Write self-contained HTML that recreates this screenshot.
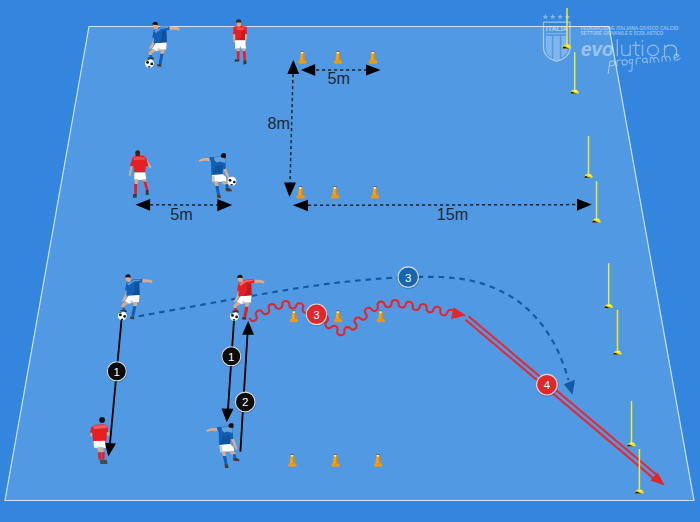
<!DOCTYPE html>
<html><head><meta charset="utf-8"><style>
html,body{margin:0;padding:0;background:#3385de;}
body{width:700px;height:522px;overflow:hidden;font-family:"Liberation Sans",sans-serif;}
svg{display:block;}
</style></head><body>
<svg width="700" height="522" viewBox="0 0 700 522" font-family="Liberation Sans, sans-serif">
<rect width="700" height="522" fill="#3385de"/>
<polygon points="89,26.5 609,26.5 694,500.5 5,500.5" fill="#5299e3" stroke="#cfe4f8" stroke-width="1.15"/>
<g fill="#ffffff" font-family="Liberation Sans, sans-serif">
<g opacity="0.4">
<path transform="translate(545.4,16.8)" d="M0,-2.9 L0.85,-0.9 L2.8,-0.9 L1.25,0.4 L1.75,2.4 L0,1.25 L-1.75,2.4 L-1.25,0.4 L-2.8,-0.9 L-0.85,-0.9 Z"/><path transform="translate(552.7,16.8)" d="M0,-2.9 L0.85,-0.9 L2.8,-0.9 L1.25,0.4 L1.75,2.4 L0,1.25 L-1.75,2.4 L-1.25,0.4 L-2.8,-0.9 L-0.85,-0.9 Z"/>
<path transform="translate(560.1,16.8)" d="M0,-2.9 L0.85,-0.9 L2.8,-0.9 L1.25,0.4 L1.75,2.4 L0,1.25 L-1.75,2.4 L-1.25,0.4 L-2.8,-0.9 L-0.85,-0.9 Z"/><path transform="translate(567.5,16.8)" d="M0,-2.9 L0.85,-0.9 L2.8,-0.9 L1.25,0.4 L1.75,2.4 L0,1.25 L-1.75,2.4 L-1.25,0.4 L-2.8,-0.9 L-0.85,-0.9 Z"/>
</g>
<path d="M543.5,22.2 L570,22.2 L570,48 Q570,57 556.7,61.5 Q543.5,57 543.5,48 Z" fill="none" stroke="#fff" stroke-width="1.2" opacity="0.5"/>
<path d="M545.8,36 L551.8,36 L551.8,57.5 Q548,55.5 546.5,52.5 Q545.8,50.5 545.8,48 Z" opacity="0.28"/>
<path d="M553.3,36 L559.8,36 L559.8,60 Q556.5,61 553.3,60 Z" opacity="0.28"/>
<path d="M561.3,36 L567.6,36 L567.6,48 Q567.6,50.5 567,52.5 Q565.5,55.5 561.3,57.5 Z" opacity="0.28"/>
<text x="556.7" y="31" text-anchor="middle" font-size="7.6" font-weight="bold" opacity="0.5" textLength="22" lengthAdjust="spacingAndGlyphs">ITALIA</text>
<rect x="546" y="33" width="21" height="1.2" opacity="0.25"/>
<text x="580.7" y="29.6" font-size="5.4" font-weight="bold" opacity="0.45" textLength="97.5" lengthAdjust="spacingAndGlyphs">FEDERAZIONE ITALIANA GIUOCO CALCIO</text>
<text x="580.7" y="35.4" font-size="5.4" font-weight="bold" opacity="0.45" textLength="82.6" lengthAdjust="spacingAndGlyphs">SETTORE GIOVANILE E SCOLASTICO</text>
<text x="581" y="55.8" font-size="19.5" font-style="italic" font-weight="bold" opacity="0.42" textLength="32.5" lengthAdjust="spacingAndGlyphs">evo</text>
<g fill="none" stroke="#fff" stroke-width="1.35" opacity="0.42" stroke-linecap="round">
<path d="M617.3,39.7 V55.6"/>
<path d="M621.8,45.2 V52 Q621.8,55.6 625.6,55.6 Q630.2,55.6 630.2,51.5 M630.2,45.2 V55.6"/>
<path d="M635.7,42 V53 Q635.7,55.6 638.8,55.5 M632.6,45.3 H639.8"/>
<path d="M642.5,45.2 V55.6"/>
<ellipse cx="653" cy="50.4" rx="5.5" ry="5.2"/>
<path d="M664.5,45.2 V55.6 M664.5,50.5 Q664.5,45.2 670.5,45.2 Q676.5,45.2 676.5,50.5 V55.6"/>
</g>
<circle cx="642.5" cy="41" r="0.9" opacity="0.42"/>
<g fill="none" stroke="#fff" stroke-width="1.05" opacity="0.45" stroke-linecap="round" stroke-linejoin="round" transform="translate(607.2,66.8) rotate(-5.4) scale(1.08,1)">
<path d="M0.3,6.8 L3,-5 M3,-4.5 Q6.5,-6.5 7.5,-3.5 Q7,0 3,-0.8"/>
<path d="M9,0 L9.5,-5 Q11,-6 13.5,-5.5"/>
<ellipse cx="16.5" cy="-2.8" rx="2.4" ry="2.6"/>
<path d="M24,-4.5 Q21,-6 20.5,-3 Q21,-0.5 23.5,-1.5 M24,-5 L22.5,5.5 Q21.5,7.5 19.5,6"/>
<path d="M27,0 L27.5,-5 Q29,-6 31.5,-5.5"/>
<path d="M37,-4.5 Q33,-6 33,-2.5 Q33.5,0 36.5,-1.5 M37,-5 L37.5,0"/>
<path d="M40,0 L40.5,-5 Q42.5,-6 43.5,-3 L44,0 M43.8,-4 Q46,-6 47.5,-3 L48,0"/>
<path d="M51,0 L51.5,-5 Q53.5,-6 54.5,-3 L55,0 M54.8,-4 Q57,-6 58.5,-3 L59,0"/>
<path d="M62,-2.5 Q66,-2.5 67,-4.5 Q66,-6.5 63.5,-5.5 Q61.5,-3 63,-0.5 Q65.5,0.5 68,-1.5"/>
</g>
</g>
<g stroke="#1b2530" stroke-width="1.5" stroke-dasharray="3.2,2.8">
<line x1="316" y1="70" x2="366" y2="70"/>
<line x1="293" y1="74" x2="290" y2="183"/>
<line x1="308" y1="205.3" x2="577" y2="204.6"/>
<line x1="150" y1="204.8" x2="218" y2="205"/>
</g>
<g fill="#000">
<path d="M301,70 L315.2,64.1 L315.2,75.9 Z"/>
<path d="M380.6,70 L366,64.4 L366,75.6 Z"/>
<path d="M293.3,60 L287.3,74 L299.3,74 Z"/>
<path d="M289.5,197 L284,182.6 L296,182.6 Z"/>
<path d="M292.8,205.3 L308,199.7 L308,211.2 Z"/>
<path d="M591.7,204.6 L577,198.7 L577,210.8 Z"/>
<path d="M135.5,204.8 L150.1,198.9 L150.1,210.7 Z"/>
<path d="M232.2,205 L217.3,199 L217.3,211.2 Z"/>
</g>
<g fill="#1c2836" font-family="Liberation Sans, sans-serif" font-size="16.2">
<text x="327.6" y="83.8">5m</text>
<text x="267.4" y="129.2">8m</text>
<text x="436.8" y="219.8">15m</text>
<text x="170.2" y="219.5">5m</text>
</g>
<g transform="translate(302.4,51)">
<path d="M-1.5,0.6 L1.5,0.6 L2.6,9.7 L-2.6,9.7 Z" fill="#f5a214"/>
<path d="M0.4,0.6 L1.5,0.6 L2.6,9.7 L0.9,9.7 Z" fill="#d98508"/>
<path d="M-4.3,11.8 Q-4.5,9.4 -2.6,9.4 L2.6,9.4 Q4.5,9.4 4.3,11.8 Q3.5,12.7 2,12.7 L-2,12.7 Q-3.5,12.7 -4.3,11.8 Z" fill="#eb9a10"/>
<ellipse cx="-0.1" cy="1.5" rx="1.1" ry="1.2" fill="#fff2c8"/>
<rect x="-1.5" y="0" width="3" height="0.7" fill="#4a4038"/>
</g>
<g transform="translate(338,51)">
<path d="M-1.5,0.6 L1.5,0.6 L2.6,9.7 L-2.6,9.7 Z" fill="#f5a214"/>
<path d="M0.4,0.6 L1.5,0.6 L2.6,9.7 L0.9,9.7 Z" fill="#d98508"/>
<path d="M-4.3,11.8 Q-4.5,9.4 -2.6,9.4 L2.6,9.4 Q4.5,9.4 4.3,11.8 Q3.5,12.7 2,12.7 L-2,12.7 Q-3.5,12.7 -4.3,11.8 Z" fill="#eb9a10"/>
<ellipse cx="-0.1" cy="1.5" rx="1.1" ry="1.2" fill="#fff2c8"/>
<rect x="-1.5" y="0" width="3" height="0.7" fill="#4a4038"/>
</g>
<g transform="translate(373,51)">
<path d="M-1.5,0.6 L1.5,0.6 L2.6,9.7 L-2.6,9.7 Z" fill="#f5a214"/>
<path d="M0.4,0.6 L1.5,0.6 L2.6,9.7 L0.9,9.7 Z" fill="#d98508"/>
<path d="M-4.3,11.8 Q-4.5,9.4 -2.6,9.4 L2.6,9.4 Q4.5,9.4 4.3,11.8 Q3.5,12.7 2,12.7 L-2,12.7 Q-3.5,12.7 -4.3,11.8 Z" fill="#eb9a10"/>
<ellipse cx="-0.1" cy="1.5" rx="1.1" ry="1.2" fill="#fff2c8"/>
<rect x="-1.5" y="0" width="3" height="0.7" fill="#4a4038"/>
</g>
<g transform="translate(300.6,186.3)">
<path d="M-1.5,0.6 L1.5,0.6 L2.6,9.2 L-2.6,9.2 Z" fill="#f5a214"/>
<path d="M0.4,0.6 L1.5,0.6 L2.6,9.2 L0.9,9.2 Z" fill="#d98508"/>
<path d="M-4.3,11.3 Q-4.5,8.9 -2.6,8.9 L2.6,8.9 Q4.5,8.9 4.3,11.3 Q3.5,12.2 2,12.2 L-2,12.2 Q-3.5,12.2 -4.3,11.3 Z" fill="#eb9a10"/>
<ellipse cx="-0.1" cy="1.5" rx="1.1" ry="1.2" fill="#fff2c8"/>
<rect x="-1.5" y="0" width="3" height="0.7" fill="#4a4038"/>
</g>
<g transform="translate(335,186.3)">
<path d="M-1.5,0.6 L1.5,0.6 L2.6,9.2 L-2.6,9.2 Z" fill="#f5a214"/>
<path d="M0.4,0.6 L1.5,0.6 L2.6,9.2 L0.9,9.2 Z" fill="#d98508"/>
<path d="M-4.3,11.3 Q-4.5,8.9 -2.6,8.9 L2.6,8.9 Q4.5,8.9 4.3,11.3 Q3.5,12.2 2,12.2 L-2,12.2 Q-3.5,12.2 -4.3,11.3 Z" fill="#eb9a10"/>
<ellipse cx="-0.1" cy="1.5" rx="1.1" ry="1.2" fill="#fff2c8"/>
<rect x="-1.5" y="0" width="3" height="0.7" fill="#4a4038"/>
</g>
<g transform="translate(375,186.3)">
<path d="M-1.5,0.6 L1.5,0.6 L2.6,9.2 L-2.6,9.2 Z" fill="#f5a214"/>
<path d="M0.4,0.6 L1.5,0.6 L2.6,9.2 L0.9,9.2 Z" fill="#d98508"/>
<path d="M-4.3,11.3 Q-4.5,8.9 -2.6,8.9 L2.6,8.9 Q4.5,8.9 4.3,11.3 Q3.5,12.2 2,12.2 L-2,12.2 Q-3.5,12.2 -4.3,11.3 Z" fill="#eb9a10"/>
<ellipse cx="-0.1" cy="1.5" rx="1.1" ry="1.2" fill="#fff2c8"/>
<rect x="-1.5" y="0" width="3" height="0.7" fill="#4a4038"/>
</g>
<g transform="translate(294,310.5)">
<path d="M-1.5,0.6 L1.5,0.6 L2.6,8.7 L-2.6,8.7 Z" fill="#f5a214"/>
<path d="M0.4,0.6 L1.5,0.6 L2.6,8.7 L0.9,8.7 Z" fill="#d98508"/>
<path d="M-4.3,10.8 Q-4.5,8.4 -2.6,8.4 L2.6,8.4 Q4.5,8.4 4.3,10.8 Q3.5,11.7 2,11.7 L-2,11.7 Q-3.5,11.7 -4.3,10.8 Z" fill="#eb9a10"/>
<ellipse cx="-0.1" cy="1.5" rx="1.1" ry="1.2" fill="#fff2c8"/>
<rect x="-1.5" y="0" width="3" height="0.7" fill="#4a4038"/>
</g>
<g transform="translate(338,310.5)">
<path d="M-1.5,0.6 L1.5,0.6 L2.6,8.7 L-2.6,8.7 Z" fill="#f5a214"/>
<path d="M0.4,0.6 L1.5,0.6 L2.6,8.7 L0.9,8.7 Z" fill="#d98508"/>
<path d="M-4.3,10.8 Q-4.5,8.4 -2.6,8.4 L2.6,8.4 Q4.5,8.4 4.3,10.8 Q3.5,11.7 2,11.7 L-2,11.7 Q-3.5,11.7 -4.3,10.8 Z" fill="#eb9a10"/>
<ellipse cx="-0.1" cy="1.5" rx="1.1" ry="1.2" fill="#fff2c8"/>
<rect x="-1.5" y="0" width="3" height="0.7" fill="#4a4038"/>
</g>
<g transform="translate(380.8,310.5)">
<path d="M-1.5,0.6 L1.5,0.6 L2.6,8.7 L-2.6,8.7 Z" fill="#f5a214"/>
<path d="M0.4,0.6 L1.5,0.6 L2.6,8.7 L0.9,8.7 Z" fill="#d98508"/>
<path d="M-4.3,10.8 Q-4.5,8.4 -2.6,8.4 L2.6,8.4 Q4.5,8.4 4.3,10.8 Q3.5,11.7 2,11.7 L-2,11.7 Q-3.5,11.7 -4.3,10.8 Z" fill="#eb9a10"/>
<ellipse cx="-0.1" cy="1.5" rx="1.1" ry="1.2" fill="#fff2c8"/>
<rect x="-1.5" y="0" width="3" height="0.7" fill="#4a4038"/>
</g>
<g transform="translate(292.3,454)">
<path d="M-1.5,0.6 L1.5,0.6 L2.6,9.7 L-2.6,9.7 Z" fill="#f5a214"/>
<path d="M0.4,0.6 L1.5,0.6 L2.6,9.7 L0.9,9.7 Z" fill="#d98508"/>
<path d="M-4.3,11.8 Q-4.5,9.4 -2.6,9.4 L2.6,9.4 Q4.5,9.4 4.3,11.8 Q3.5,12.7 2,12.7 L-2,12.7 Q-3.5,12.7 -4.3,11.8 Z" fill="#eb9a10"/>
<ellipse cx="-0.1" cy="1.5" rx="1.1" ry="1.2" fill="#fff2c8"/>
<rect x="-1.5" y="0" width="3" height="0.7" fill="#4a4038"/>
</g>
<g transform="translate(335.4,454)">
<path d="M-1.5,0.6 L1.5,0.6 L2.6,9.7 L-2.6,9.7 Z" fill="#f5a214"/>
<path d="M0.4,0.6 L1.5,0.6 L2.6,9.7 L0.9,9.7 Z" fill="#d98508"/>
<path d="M-4.3,11.8 Q-4.5,9.4 -2.6,9.4 L2.6,9.4 Q4.5,9.4 4.3,11.8 Q3.5,12.7 2,12.7 L-2,12.7 Q-3.5,12.7 -4.3,11.8 Z" fill="#eb9a10"/>
<ellipse cx="-0.1" cy="1.5" rx="1.1" ry="1.2" fill="#fff2c8"/>
<rect x="-1.5" y="0" width="3" height="0.7" fill="#4a4038"/>
</g>
<g transform="translate(378,454)">
<path d="M-1.5,0.6 L1.5,0.6 L2.6,9.7 L-2.6,9.7 Z" fill="#f5a214"/>
<path d="M0.4,0.6 L1.5,0.6 L2.6,9.7 L0.9,9.7 Z" fill="#d98508"/>
<path d="M-4.3,11.8 Q-4.5,9.4 -2.6,9.4 L2.6,9.4 Q4.5,9.4 4.3,11.8 Q3.5,12.7 2,12.7 L-2,12.7 Q-3.5,12.7 -4.3,11.8 Z" fill="#eb9a10"/>
<ellipse cx="-0.1" cy="1.5" rx="1.1" ry="1.2" fill="#fff2c8"/>
<rect x="-1.5" y="0" width="3" height="0.7" fill="#4a4038"/>
</g>
<path d="M138.6,316.3 L140.1,316.0 L141.9,315.7 L143.9,315.3 L146.1,314.9 L148.5,314.5 L151.1,314.0 L153.8,313.5 L156.7,313.0 L159.7,312.4 L162.7,311.9 L165.9,311.3 L169.1,310.7 L172.4,310.1 L175.7,309.5 L179.0,308.9 L182.3,308.3 L185.5,307.7 L188.8,307.1 L191.9,306.6 L195.0,306.0 L198.1,305.4 L201.2,304.9 L204.4,304.3 L207.7,303.7 L211.0,303.1 L214.3,302.5 L217.7,301.9 L221.1,301.3 L224.5,300.7 L227.9,300.1 L231.3,299.5 L234.7,298.9 L238.0,298.3 L241.3,297.7 L244.6,297.2 L247.8,296.6 L251.0,296.1 L254.1,295.5 L257.1,295.0 L260.0,294.5 L262.8,294.0 L265.6,293.5 L268.3,293.1 L271.0,292.6 L273.6,292.2 L276.1,291.7 L278.6,291.3 L281.1,290.9 L283.5,290.5 L285.9,290.1 L288.3,289.7 L290.7,289.3 L293.1,288.9 L295.5,288.5 L297.9,288.1 L300.2,287.7 L302.6,287.4 L305.1,287.0 L307.5,286.7 L310.0,286.3 L312.5,285.9 L315.0,285.6 L317.5,285.3 L320.0,284.9 L322.5,284.6 L325.1,284.2 L327.6,283.9 L330.1,283.6 L332.6,283.3 L335.1,283.0 L337.6,282.7 L340.1,282.4 L342.6,282.1 L345.1,281.8 L347.6,281.5 L350.1,281.3 L352.6,281.0 L355.1,280.8 L357.5,280.5 L360.0,280.3 L362.5,280.1 L364.9,279.9 L367.4,279.6 L369.8,279.4 L372.3,279.2 L374.7,279.0 L377.2,278.9 L379.6,278.7 L382.1,278.5 L384.5,278.4 L386.9,278.2 L389.3,278.0 L391.7,277.9 L394.1,277.8 L396.5,277.7 L398.8,277.5 L401.1,277.4 L403.5,277.4 L405.7,277.3 L408.0,277.2 L410.2,277.1 L412.5,277.1 L414.7,277.0 L416.9,277.0 L419.1,276.9 L421.3,276.9 L423.4,276.8 L425.6,276.8 L427.7,276.8 L429.8,276.8 L431.9,276.8 L434.0,276.8 L436.1,276.8 L438.1,276.9 L440.1,277.0 L442.1,277.0 L444.1,277.2 L446.1,277.3 L448.1,277.4 L450.0,277.6 L451.9,277.8 L453.8,278.0 L455.7,278.2 L457.5,278.4 L459.3,278.7 L461.1,278.9 L462.9,279.2 L464.6,279.5 L466.4,279.8 L468.1,280.1 L469.8,280.4 L471.6,280.8 L473.3,281.2 L474.9,281.6 L476.6,282.0 L478.3,282.4 L480.0,282.9 L481.7,283.4 L483.3,283.9 L485.0,284.5 L486.7,285.1 L488.4,285.7 L490.1,286.4 L491.7,287.0 L493.4,287.7 L495.1,288.5 L496.8,289.2 L498.5,290.0 L500.1,290.8 L501.8,291.6 L503.4,292.4 L505.0,293.3 L506.6,294.1 L508.2,295.0 L509.7,295.9 L511.2,296.8 L512.7,297.7 L514.2,298.6 L515.6,299.6 L517.0,300.5 L518.4,301.4 L519.7,302.4 L521.0,303.4 L522.3,304.4 L523.5,305.5 L524.7,306.5 L525.9,307.6 L527.1,308.7 L528.3,309.7 L529.4,310.8 L530.5,312.0 L531.6,313.1 L532.7,314.2 L533.8,315.3 L534.8,316.4 L535.8,317.5 L536.8,318.7 L537.8,319.8 L538.8,320.9 L539.7,322.0 L540.6,323.1 L541.5,324.2 L542.4,325.3 L543.3,326.5 L544.1,327.6 L544.9,328.8 L545.7,329.9 L546.5,331.0 L547.3,332.2 L548.0,333.3 L548.7,334.5 L549.5,335.6 L550.1,336.8 L550.8,337.9 L551.5,339.0 L552.1,340.1 L552.8,341.3 L553.4,342.3 L554.0,343.4 L554.6,344.5 L555.2,345.6 L555.7,346.6 L556.3,347.7 L556.8,348.7 L557.3,349.8 L557.8,350.8 L558.3,351.9 L558.7,352.9 L559.2,353.9 L559.6,354.9 L560.0,355.9 L560.4,356.9 L560.8,357.9 L561.2,358.9 L561.6,359.9 L562.0,360.8 L562.3,361.8 L562.7,362.7 L563.1,363.6 L563.4,364.5 L563.7,365.4 L564.1,366.3 L564.4,367.2 L564.7,368.1 L565.1,369.1 L565.4,370.0 L565.7,370.9 L566.0,371.8 L566.2,372.6 L566.5,373.5 L566.8,374.3 L567.0,375.1 L567.2,375.9 L567.5,376.6 L567.7,377.3 L567.9,378.0 L568.0,378.6 L568.2,379.1 L568.4,379.6 L568.5,380.0" fill="none" stroke="#135ca4" stroke-width="2.2" stroke-dasharray="5.6,4.85"/>
<path d="M572.5,394.8 L563.8,384.2 L575,379.8 Z" fill="#135ca4"/>
<g stroke="#000" stroke-width="1.8">
<line x1="121.5" y1="320" x2="110" y2="443"/>
<line x1="234" y1="320.3" x2="228" y2="409"/>
<line x1="240.4" y1="451.6" x2="247.5" y2="334"/>
</g>
<g fill="#000">
<path d="M108.3,456.6 L104.8,442.8 L116,443.5 Z"/>
<path d="M226.7,422.2 L221.6,408.4 L233.6,408.8 Z"/>
<path d="M248.2,321 L242.2,334.8 L254,334.8 Z"/>
</g>
<path d="M249.24,318.18 L251.19,320.53 L252.02,320.93 L252.69,321.05 L253.28,321.06 L253.83,320.99 L254.33,320.85 L254.79,320.65 L255.22,320.40 L255.62,320.09 L255.98,319.73 L256.30,319.30 L256.58,318.79 L256.79,318.17 L256.87,317.34 L255.79,314.53 L255.77,313.51 L255.96,312.83 L256.22,312.29 L256.55,311.84 L256.91,311.45 L257.31,311.12 L257.74,310.85 L258.21,310.64 L258.71,310.49 L259.25,310.41 L259.83,310.40 L260.47,310.50 L261.21,310.79 L262.97,313.01 L263.92,313.76 L264.60,314.00 L265.18,314.10 L265.72,314.10 L266.22,314.04 L266.70,313.92 L267.15,313.73 L267.59,313.48 L267.99,313.17 L268.37,312.80 L268.70,312.35 L268.99,311.80 L269.20,311.09 L269.02,309.53 L268.44,307.12 L268.67,306.39 L268.98,305.83 L269.34,305.38 L269.74,305.01 L270.17,304.70 L270.64,304.46 L271.13,304.27 L271.65,304.16 L272.20,304.11 L272.78,304.14 L273.40,304.28 L274.07,304.58 L274.90,305.37 L276.30,307.91 L276.95,308.36 L277.51,308.61 L278.03,308.74 L278.52,308.81 L278.98,308.81 L279.42,308.75 L279.85,308.64 L280.26,308.47 L280.66,308.24 L281.06,307.94 L281.46,307.54 L281.85,307.01 L282.21,306.11 L282.38,303.08 L282.84,302.33 L283.34,301.86 L283.86,301.53 L284.39,301.29 L284.93,301.14 L285.47,301.06 L286.01,301.05 L286.56,301.12 L287.09,301.26 L287.63,301.49 L288.15,301.81 L288.66,302.28 L289.14,303.04 L289.44,306.07 L289.85,306.91 L290.29,307.41 L290.72,307.77 L291.17,308.04 L291.61,308.24 L292.07,308.37 L292.53,308.44 L293.00,308.46 L293.48,308.41 L293.98,308.29 L294.48,308.09 L295.00,307.76 L295.58,307.22 L296.75,304.49 L297.51,303.72 L298.18,303.39 L298.80,303.23 L299.40,303.18 L299.97,303.21 L300.51,303.31 L301.03,303.49 L301.51,303.72 L301.97,304.03 L302.38,304.40 L302.76,304.85 L303.08,305.41 L303.31,306.16 L302.69,308.82 L302.66,310.13 L302.90,310.83 L303.22,311.36 L303.58,311.80 L303.99,312.16 L304.43,312.45 L304.91,312.68 L305.42,312.85 L305.96,312.96 L306.53,312.99 L307.14,312.94 L307.79,312.77 L308.48,312.42 L309.34,311.34 L310.47,308.91 L311.05,308.44 L311.59,308.17 L312.11,308.00 L312.62,307.92 L313.13,307.91 L313.65,307.96 L314.16,308.09 L314.67,308.30 L315.18,308.58 L315.67,308.95 L316.12,309.43 L316.51,310.08 L316.72,311.17 L316.15,314.06 L316.29,314.83 L316.49,315.37 L316.72,315.80 L316.96,316.16 L317.23,316.46 L317.52,316.72 L317.83,316.92 L318.17,317.08 L318.55,317.20 L318.99,317.29 L319.51,317.35 L320.15,317.32 L321.05,317.09 L323.60,315.42 L324.49,315.33 L325.17,315.44 L325.75,315.65 L326.25,315.93 L326.69,316.25 L327.06,316.61 L327.39,317.02 L327.66,317.47 L327.87,317.95 L328.01,318.48 L328.08,319.06 L328.04,319.72 L327.79,320.55 L325.72,322.78 L325.38,323.69 L325.32,324.38 L325.38,324.98 L325.53,325.53 L325.74,326.03 L326.01,326.49 L326.35,326.91 L326.74,327.28 L327.18,327.61 L327.69,327.89 L328.27,328.10 L328.95,328.22 L329.78,328.15 L332.14,326.41 L333.14,325.97 L333.78,325.85 L334.29,325.81 L334.74,325.82 L335.17,325.91 L335.59,326.07 L335.97,326.27 L336.33,326.52 L336.66,326.82 L336.95,327.18 L337.22,327.61 L337.46,328.14 L337.64,328.84 L337.14,331.37 L337.17,332.85 L337.53,333.55 L337.99,334.07 L338.50,334.48 L339.06,334.78 L339.65,335.00 L340.26,335.13 L340.90,335.18 L341.55,335.13 L342.19,334.99 L342.81,334.73 L343.41,334.35 L343.96,333.76 L344.36,332.56 L344.35,329.76 L344.61,329.08 L344.88,328.60 L345.12,328.24 L345.35,327.95 L345.59,327.72 L345.86,327.52 L346.18,327.36 L346.54,327.23 L346.95,327.14 L347.42,327.09 L347.97,327.09 L348.62,327.19 L349.56,327.59 L351.88,329.49 L352.72,329.63 L353.39,329.58 L353.98,329.43 L354.50,329.20 L354.97,328.93 L355.38,328.60 L355.74,328.22 L356.05,327.81 L356.30,327.34 L356.50,326.83 L356.62,326.25 L356.64,325.57 L356.43,324.68 L354.63,322.22 L354.44,321.33 L354.49,320.65 L354.63,320.06 L354.86,319.54 L355.14,319.07 L355.48,318.65 L355.87,318.28 L356.32,317.96 L356.80,317.70 L357.31,317.53 L357.86,317.43 L358.50,317.43 L359.32,317.61 L361.71,319.45 L362.68,319.74 L363.38,319.74 L363.98,319.62 L364.51,319.44 L364.97,319.20 L365.39,318.90 L365.77,318.57 L366.09,318.18 L366.37,317.75 L366.59,317.27 L366.75,316.73 L366.83,316.10 L366.76,315.32 L365.19,312.92 L364.83,311.79 L364.86,311.06 L365.01,310.45 L365.24,309.92 L365.53,309.44 L365.87,309.02 L366.26,308.65 L366.71,308.34 L367.20,308.08 L367.74,307.88 L368.34,307.76 L369.00,307.74 L369.77,307.89 L371.14,309.00 L372.74,310.62 L373.42,310.87 L374.00,310.96 L374.52,310.97 L375.00,310.92 L375.44,310.81 L375.86,310.64 L376.25,310.43 L376.62,310.16 L376.97,309.83 L377.29,309.42 L377.59,308.93 L377.83,308.28 L377.91,307.12 L377.44,304.28 L377.73,303.52 L378.12,302.97 L378.54,302.55 L379.00,302.21 L379.49,301.95 L379.99,301.76 L380.52,301.63 L381.06,301.58 L381.61,301.60 L382.18,301.70 L382.76,301.91 L383.37,302.27 L384.05,303.01 L385.11,305.84 L385.72,306.43 L386.27,306.76 L386.78,306.97 L387.26,307.10 L387.73,307.17 L388.18,307.17 L388.63,307.12 L389.07,307.00 L389.51,306.83 L389.95,306.58 L390.39,306.24 L390.84,305.78 L391.29,305.01 L391.72,301.99 L392.23,301.20 L392.75,300.74 L393.28,300.43 L393.81,300.22 L394.35,300.09 L394.87,300.03 L395.40,300.05 L395.92,300.13 L396.43,300.28 L396.94,300.51 L397.43,300.83 L397.91,301.29 L398.37,301.98 L398.65,304.96 L399.07,305.92 L399.52,306.45 L399.97,306.82 L400.41,307.10 L400.85,307.30 L401.30,307.44 L401.77,307.52 L402.24,307.54 L402.72,307.50 L403.22,307.38 L403.74,307.19 L404.28,306.89 L404.86,306.38 L405.83,303.77 L406.54,302.72 L407.14,302.29 L407.71,302.03 L408.25,301.88 L408.78,301.81 L409.29,301.82 L409.79,301.89 L410.28,302.02 L410.75,302.21 L411.20,302.48 L411.64,302.83 L412.05,303.28 L412.43,303.91 L412.67,305.32 L412.69,307.94 L413.09,308.60 L413.53,309.07 L413.99,309.42 L414.47,309.68 L414.96,309.87 L415.46,310.00 L415.97,310.05 L416.48,310.04 L417.01,309.96 L417.55,309.79 L418.10,309.53 L418.67,309.10 L419.30,308.19 L420.20,305.40 L420.79,304.83 L421.34,304.50 L421.88,304.29 L422.40,304.17 L422.92,304.12 L423.43,304.14 L423.93,304.23 L424.42,304.38 L424.90,304.60 L425.37,304.90 L425.82,305.30 L426.25,305.85 L426.61,306.74 L426.60,309.78 L426.97,310.57 L427.37,311.09 L427.80,311.47 L428.25,311.77 L428.70,311.99 L429.17,312.14 L429.65,312.24 L430.14,312.27 L430.65,312.23 L431.17,312.13 L431.72,311.93 L432.29,311.60 L432.93,311.00 L434.04,308.17 L434.70,307.47 L435.29,307.12 L435.85,306.91 L436.39,306.80 L436.91,306.76 L437.42,306.79 L437.91,306.89 L438.39,307.05 L438.85,307.28 L439.30,307.58 L439.73,307.96 L440.13,308.47 L440.48,309.21 L440.34,312.15 L440.61,313.21 L440.99,313.81 L441.40,314.26 L441.83,314.60 L442.29,314.86 L442.75,315.06 L443.24,315.19 L443.73,315.26 L444.24,315.26 L444.77,315.19 L445.32,315.04 L445.89,314.78 L446.50,314.32 L447.57,311.89 L448.34,310.73 L448.95,310.31 L449.52,310.06 L450.06,309.93 L450.59,309.87 L451.09,309.88 L451.59,309.95 L452.06,310.09 L452.53,310.30" fill="none" stroke="#e3262c" stroke-width="2.1" stroke-linejoin="round"/>
<path d="M466,315.4 L453.4,307.2 L451.1,318.9 Z" fill="#e3262c"/>
<line x1="465.5" y1="319.8" x2="653.5" y2="478.4" stroke="#e52a33" stroke-width="2.1"/>
<line x1="468.5" y1="316.2" x2="656.5" y2="474.8" stroke="#e52a33" stroke-width="2.1"/>
<path d="M664.8,485.4 L650.6,480.6 L657.4,472.2 Z" fill="#e3262c"/>
<g>
<line x1="567" y1="8" x2="567" y2="45.1" stroke="#f2ea2a" stroke-width="1.5"/>
<path d="M562.7,48.4 Q563.0,44.3 567.0,44.3 Q571.0,44.3 571.3,48.4 Z" fill="#f0e020"/>
<path d="M562.7,48.4 Q563.0,45.8 565.0,46.8 Q567.0,47.8 569.5,48.4 Z" fill="#14140a"/>
<ellipse cx="567.8" cy="45.6" rx="1.5" ry="0.7" fill="#fffaa0"/>
</g>
<g>
<line x1="574.7" y1="52.2" x2="574.7" y2="90.3" stroke="#f2ea2a" stroke-width="1.5"/>
<path d="M570.4,93.6 Q570.7,89.5 574.7,89.5 Q578.7,89.5 579.0,93.6 Z" fill="#f0e020"/>
<path d="M570.4,93.6 Q570.7,91.0 572.7,92.0 Q574.7,93.0 577.2,93.6 Z" fill="#14140a"/>
<ellipse cx="575.5" cy="90.8" rx="1.5" ry="0.7" fill="#fffaa0"/>
</g>
<g>
<line x1="588.5" y1="136.1" x2="588.5" y2="174.5" stroke="#f2ea2a" stroke-width="1.5"/>
<path d="M584.2,177.8 Q584.5,173.7 588.5,173.7 Q592.5,173.7 592.8,177.8 Z" fill="#f0e020"/>
<path d="M584.2,177.8 Q584.5,175.2 586.5,176.2 Q588.5,177.2 591.0,177.8 Z" fill="#14140a"/>
<ellipse cx="589.3" cy="175" rx="1.5" ry="0.7" fill="#fffaa0"/>
</g>
<g>
<line x1="596.5" y1="181.3" x2="596.5" y2="219.1" stroke="#f2ea2a" stroke-width="1.5"/>
<path d="M592.2,222.4 Q592.5,218.3 596.5,218.3 Q600.5,218.3 600.8,222.4 Z" fill="#f0e020"/>
<path d="M592.2,222.4 Q592.5,219.8 594.5,220.8 Q596.5,221.8 599.0,222.4 Z" fill="#14140a"/>
<ellipse cx="597.3" cy="219.6" rx="1.5" ry="0.7" fill="#fffaa0"/>
</g>
<g>
<line x1="608.7" y1="263.3" x2="608.7" y2="304.8" stroke="#f2ea2a" stroke-width="1.5"/>
<path d="M604.4,308.1 Q604.7,304.0 608.7,304.0 Q612.7,304.0 613.0,308.1 Z" fill="#f0e020"/>
<path d="M604.4,308.1 Q604.7,305.5 606.7,306.5 Q608.7,307.5 611.2,308.1 Z" fill="#14140a"/>
<ellipse cx="609.5" cy="305.3" rx="1.5" ry="0.7" fill="#fffaa0"/>
</g>
<g>
<line x1="617.5" y1="309.8" x2="617.5" y2="351.3" stroke="#f2ea2a" stroke-width="1.5"/>
<path d="M613.2,354.6 Q613.5,350.5 617.5,350.5 Q621.5,350.5 621.8,354.6 Z" fill="#f0e020"/>
<path d="M613.2,354.6 Q613.5,352.0 615.5,353.0 Q617.5,354.0 620.0,354.6 Z" fill="#14140a"/>
<ellipse cx="618.3" cy="351.8" rx="1.5" ry="0.7" fill="#fffaa0"/>
</g>
<g>
<line x1="631.5" y1="401" x2="631.5" y2="443.0" stroke="#f2ea2a" stroke-width="1.5"/>
<path d="M627.2,446.3 Q627.5,442.2 631.5,442.2 Q635.5,442.2 635.8,446.3 Z" fill="#f0e020"/>
<path d="M627.2,446.3 Q627.5,443.7 629.5,444.7 Q631.5,445.7 634.0,446.3 Z" fill="#14140a"/>
<ellipse cx="632.3" cy="443.5" rx="1.5" ry="0.7" fill="#fffaa0"/>
</g>
<g>
<line x1="639.4" y1="449" x2="639.4" y2="490.1" stroke="#f2ea2a" stroke-width="1.5"/>
<path d="M635.1,493.4 Q635.4,489.3 639.4,489.3 Q643.4,489.3 643.7,493.4 Z" fill="#f0e020"/>
<path d="M635.1,493.4 Q635.4,490.8 637.4,491.8 Q639.4,492.8 641.9,493.4 Z" fill="#14140a"/>
<ellipse cx="640.1999999999999" cy="490.6" rx="1.5" ry="0.7" fill="#fffaa0"/>
</g>
<g>
<path d="M154,37.5 L151.5,44 L149,48 L150.5,49.5 L153,46 L156,40 Z" fill="#dcab8e"/>
<path d="M168.5,26.4 L178,27.2 L180,29 L178.5,30.6 L176,29.8 L168.5,30 Z" fill="#dcab8e"/>
<path d="M157,28.5 L161,26.6 L169.5,26.4 L169.5,30 L166.4,30.6 L167,42.7 L153.5,43.3 L153.8,38 L152.2,37.5 L153.5,30.5 Z" fill="#1260b6"/>
<path d="M154,31 L161,27.3 L168,27 L168,28 L161,29 L156,33 Z" fill="#74aee0" opacity="0.75"/>
<path d="M161.5,31 L166.4,30.6 L167,42.7 L159,43 L162,38 Z" fill="#000" opacity="0.16"/>
<path d="M152.3,25 Q152.5,21.8 155.5,21.8 Q158.3,22 157.8,25.5 L156,26 Z" fill="#1a1616"/>
<path d="M152.6,24.8 L157.8,25 L158.2,28.5 L156.5,29.8 L153.5,28 Z" fill="#dcab8e"/>
<path d="M155.8,43.2 L166.7,42.6 L166.1,49.5 L161,49.8 L156.4,51.2 L152,48.6 Z" fill="#ffffff"/>
<path d="M156.4,51.2 L161,49.8 L158.5,47.5 Z" fill="#c9c9c9"/>
<path d="M152.5,48.8 L156,51 L151.5,53.5 L152,55.5 L149,55.5 L148.5,52.5 Z" fill="#dcab8e"/>
<path d="M149,55 L152,55 L153,58.5 L150,59 Z" fill="#1260b6"/>
<path d="M147.5,57.5 L153.5,57.5 L154,59.5 L148,59.8 Z" fill="#3a3a3a"/>
<path d="M160.5,49.8 L165,49.5 L163.5,54 L160.5,54 Z" fill="#dcab8e"/>
<path d="M160.3,53.8 L163.6,53.8 L161.5,64.2 L158.5,64 Z" fill="#1260b6"/>
<path d="M157.5,64 L161.2,64 L161.5,66.8 L157.3,66.6 Z" fill="#4a3c34"/>
<circle cx="149.5" cy="63.3" r="4.4" fill="#ffffff"/>
<circle cx="147.6" cy="62.4" r="1.4" fill="#111"/>
<circle cx="151.8" cy="63.9" r="1.35" fill="#111"/>
<path d="M147.8,66.6 Q149,65.6 150.6,66.4 L150,67.6 L148.5,67.6 Z" fill="#111"/>
<path d="M146.2,60.3 Q148,58.8 150.5,58.9 L149.5,59.8 Q147.5,60 146.6,61 Z" fill="#333"/>
</g>
<g>
<path d="M233.6,33 L235.5,33 L235.2,42.4 L233.6,42.6 L233,38 Z" fill="#dcab8e"/>
<path d="M245,33 L246.8,33 L247,38 L246,42.6 L244.6,42.3 Z" fill="#dcab8e"/>
<path d="M233.4,26.8 L238,26 L242,26 L246.6,26.8 L247,34 L245,34.3 L245,40.3 L235.3,40.5 L235.3,34.3 L233.2,34 Z" fill="#e61f25"/>
<path d="M236,27.5 L244.5,27.5 L243,30 L237.5,30 Z" fill="#f58a8a" opacity="0.5"/>
<path d="M241,32 L245,30 L245,40.3 L239,40.3 L242,36 Z" fill="#000" opacity="0.14"/>
<path d="M236,22.5 Q236,19.2 238.8,19.2 Q241.5,19.2 241.3,22.5 L240.8,23.5 L236.5,23.5 Z" fill="#3b2418"/>
<path d="M236.6,22.6 L241,22.6 L240.8,25.8 L238.8,27 L236.8,25.8 Z" fill="#dcab8e"/>
<path d="M235.2,40.3 L245.2,40.3 L246,48.7 L241,48.5 L240.5,46 L239.5,48.5 L235,48.7 Z" fill="#ffffff"/>
<path d="M236.5,48.5 L239.5,48.5 L239.5,51.5 L236.5,51.5 Z" fill="#dcab8e"/>
<path d="M242,48.5 L245,48.5 L245.5,51.5 L242.5,51.5 Z" fill="#dcab8e"/>
<path d="M236.5,51.3 L239.6,51.3 L239.5,59.3 L237.2,59.3 Z" fill="#e61f25"/>
<path d="M242.6,51.3 L245.6,51.3 L246,60.5 L243.6,60.5 Z" fill="#e61f25"/>
<path d="M235,59.2 L239.5,59.2 L239.3,61.4 L234.6,61.8 Z" fill="#3a3a3a"/>
<path d="M243.5,60.3 L246.2,60.3 L246.5,64 L243.4,64.4 Z" fill="#3a3a3a"/>
</g>
<g>
<path d="M131,165 L132.8,165.5 L130.5,175.5 L128.5,175.5 Z" fill="#dcab8e"/>
<path d="M145.5,160 L147,160 L151.5,167 L150.5,168.5 L145.5,164 Z" fill="#dcab8e"/>
<path d="M132.3,158.5 Q133.5,156 137.5,155.6 L143,155.6 Q145.8,156.2 146.5,159 L148.4,165.8 L145.6,166.6 L145.2,172.6 L134,172.6 L133.6,166.6 L130,165.8 Z" fill="#e61f25"/>
<path d="M134,157 L145,157 L145.5,159.8 L133.5,160 Z" fill="#f58a8a" opacity="0.4"/>
<path d="M135.2,152.5 Q135.5,150.2 137.8,150.2 Q140.3,150.4 140.1,153 L139.6,156 L135.8,156 Z" fill="#3b2418"/>
<path d="M134.4,172.4 L145.2,172.4 L146.2,179.5 L140,180 L134.2,179.5 Z" fill="#ffffff"/>
<path d="M134.5,179.3 L138.5,179.3 L137.5,184 L135,184 Z" fill="#dcab8e"/>
<path d="M142,179.5 L146,179.3 L147,182 L144,182 Z" fill="#dcab8e"/>
<path d="M134,184 L137.3,184 L136.8,194 L134.3,194 Z" fill="#e61f25"/>
<path d="M143.3,181.8 L146.3,181.5 L148.5,190 L146,190.3 Z" fill="#e61f25"/>
<path d="M133.3,194 L136.9,194 L136.5,197.7 L132.8,197.6 Z" fill="#3a3a3a"/>
<path d="M145.8,190 L148.5,190 L148.8,194.8 L145.7,195 Z" fill="#3a3a3a"/>
</g>
<g>
<path d="M209.5,157.8 L203,158.3 L199.5,159.8 L198.5,161 L199.5,161.8 L203.5,160.8 L210,161 Z" fill="#dcab8e"/>
<path d="M223,168 L226,168 L230,178.5 L228.5,179.8 L225.5,174 Z" fill="#dcab8e"/>
<path d="M209,157.2 L220,156.5 L225.2,158.5 L225.7,169 L223,169.3 L222.6,174.2 L211.4,175.3 L211,161.5 L210.5,161.3 Z" fill="#1260b6"/>
<path d="M214,157.3 L222,157 L225,159 L225,163 L220,161.5 L217,162.5 L214.5,160.5 Z" fill="#74aee0" opacity="0.85"/>
<path d="M215,166 L222,165 L222.6,174.2 L213,175 Z" fill="#000" opacity="0.12"/>
<path d="M220.6,155.5 Q221.5,153 223.5,153 Q226.5,153.2 226,156 L225.5,158.2 L221.5,157.5 Z" fill="#141010"/>
<path d="M211.9,175 L222.8,174.2 L226,177 L226.5,181.2 L221.5,181.7 L212.5,181.8 Z" fill="#ffffff"/>
<path d="M212.2,176 L214.5,176 L215,181.7 L212.5,181.8 Z" fill="#c8c8c8"/>
<path d="M213.5,181.5 L217.5,181.5 L218.5,186.3 L215.5,186.3 Z" fill="#dcab8e"/>
<path d="M215.3,186 L218.6,186 L220,194.5 L217,194.6 Z" fill="#1260b6"/>
<path d="M216.8,194.4 L220.2,194.4 L221,198 L217.5,198.2 Z" fill="#4a3c34"/>
<path d="M221.5,181.5 L225.5,181.2 L228.5,184 L227,186 L223,184 Z" fill="#dcab8e"/>
<path d="M225.2,184.3 L228,184 L228.8,188.5 L226,188.8 Z" fill="#1260b6"/>
<path d="M225.4,188 L229.5,188 L232,190.2 L231.5,191.4 L226,191.2 Z" fill="#4a3c34"/>
<circle cx="231.9" cy="181.2" r="4.5" fill="#ffffff"/>
<circle cx="230" cy="180.3" r="1.4" fill="#111"/>
<circle cx="234.3" cy="182" r="1.35" fill="#111"/>
<path d="M230.2,184.6 Q231.5,183.6 233,184.4 L232.5,185.6 L230.8,185.6 Z" fill="#111"/>
</g>
<g transform="translate(-27.2,252.5)">
<path d="M154,37.5 L151.5,44 L149,48 L150.5,49.5 L153,46 L156,40 Z" fill="#dcab8e"/>
<path d="M168.5,26.4 L178,27.2 L180,29 L178.5,30.6 L176,29.8 L168.5,30 Z" fill="#dcab8e"/>
<path d="M157,28.5 L161,26.6 L169.5,26.4 L169.5,30 L166.4,30.6 L167,42.7 L153.5,43.3 L153.8,38 L152.2,37.5 L153.5,30.5 Z" fill="#1260b6"/>
<path d="M154,31 L161,27.3 L168,27 L168,28 L161,29 L156,33 Z" fill="#74aee0" opacity="0.75"/>
<path d="M161.5,31 L166.4,30.6 L167,42.7 L159,43 L162,38 Z" fill="#000" opacity="0.16"/>
<path d="M152.3,25 Q152.5,21.8 155.5,21.8 Q158.3,22 157.8,25.5 L156,26 Z" fill="#1a1616"/>
<path d="M152.6,24.8 L157.8,25 L158.2,28.5 L156.5,29.8 L153.5,28 Z" fill="#dcab8e"/>
<path d="M155.8,43.2 L166.7,42.6 L166.1,49.5 L161,49.8 L156.4,51.2 L152,48.6 Z" fill="#ffffff"/>
<path d="M156.4,51.2 L161,49.8 L158.5,47.5 Z" fill="#c9c9c9"/>
<path d="M152.5,48.8 L156,51 L151.5,53.5 L152,55.5 L149,55.5 L148.5,52.5 Z" fill="#dcab8e"/>
<path d="M149,55 L152,55 L153,58.5 L150,59 Z" fill="#1260b6"/>
<path d="M147.5,57.5 L153.5,57.5 L154,59.5 L148,59.8 Z" fill="#3a3a3a"/>
<path d="M160.5,49.8 L165,49.5 L163.5,54 L160.5,54 Z" fill="#dcab8e"/>
<path d="M160.3,53.8 L163.6,53.8 L161.5,64.2 L158.5,64 Z" fill="#1260b6"/>
<path d="M157.5,64 L161.2,64 L161.5,66.8 L157.3,66.6 Z" fill="#4a3c34"/>
<circle cx="149.5" cy="63.3" r="4.4" fill="#ffffff"/>
<circle cx="147.6" cy="62.4" r="1.4" fill="#111"/>
<circle cx="151.8" cy="63.9" r="1.35" fill="#111"/>
<path d="M147.8,66.6 Q149,65.6 150.6,66.4 L150,67.6 L148.5,67.6 Z" fill="#111"/>
<path d="M146.2,60.3 Q148,58.8 150.5,58.9 L149.5,59.8 Q147.5,60 146.6,61 Z" fill="#333"/>
</g>
<g transform="translate(84.8,253)">
<path d="M154,37.5 L151.5,44 L149,48 L150.5,49.5 L153,46 L156,40 Z" fill="#dcab8e"/>
<path d="M168.5,26.4 L178,27.2 L180,29 L178.5,30.6 L176,29.8 L168.5,30 Z" fill="#dcab8e"/>
<path d="M157,28.5 L161,26.6 L169.5,26.4 L169.5,30 L166.4,30.6 L167,42.7 L153.5,43.3 L153.8,38 L152.2,37.5 L153.5,30.5 Z" fill="#e61f25"/>
<path d="M154,31 L161,27.3 L168,27 L168,28 L161,29 L156,33 Z" fill="#f58a8a" opacity="0.75"/>
<path d="M161.5,31 L166.4,30.6 L167,42.7 L159,43 L162,38 Z" fill="#000" opacity="0.16"/>
<path d="M152.3,25 Q152.5,21.8 155.5,21.8 Q158.3,22 157.8,25.5 L156,26 Z" fill="#1a1414"/>
<path d="M152.6,24.8 L157.8,25 L158.2,28.5 L156.5,29.8 L153.5,28 Z" fill="#dcab8e"/>
<path d="M155.8,43.2 L166.7,42.6 L166.1,49.5 L161,49.8 L156.4,51.2 L152,48.6 Z" fill="#ffffff"/>
<path d="M156.4,51.2 L161,49.8 L158.5,47.5 Z" fill="#c9c9c9"/>
<path d="M152.5,48.8 L156,51 L151.5,53.5 L152,55.5 L149,55.5 L148.5,52.5 Z" fill="#dcab8e"/>
<path d="M149,55 L152,55 L153,58.5 L150,59 Z" fill="#e61f25"/>
<path d="M147.5,57.5 L153.5,57.5 L154,59.5 L148,59.8 Z" fill="#3a3a3a"/>
<path d="M160.5,49.8 L165,49.5 L163.5,54 L160.5,54 Z" fill="#dcab8e"/>
<path d="M160.3,53.8 L163.6,53.8 L161.5,64.2 L158.5,64 Z" fill="#e61f25"/>
<path d="M157.5,64 L161.2,64 L161.5,66.8 L157.3,66.6 Z" fill="#4a3c34"/>
<circle cx="149.5" cy="63.3" r="4.4" fill="#ffffff"/>
<circle cx="147.6" cy="62.4" r="1.4" fill="#111"/>
<circle cx="151.8" cy="63.9" r="1.35" fill="#111"/>
<path d="M147.8,66.6 Q149,65.6 150.6,66.4 L150,67.6 L148.5,67.6 Z" fill="#111"/>
<path d="M146.2,60.3 Q148,58.8 150.5,58.9 L149.5,59.8 Q147.5,60 146.6,61 Z" fill="#333"/>
</g>
<g>
<path d="M91.5,430 L93.5,431 L91.8,437 L90,435.5 Z" fill="#dcab8e"/>
<path d="M106,430 L108,430.5 L110,434.5 L108.5,436 L106,434 Z" fill="#dcab8e"/>
<path d="M91,428 Q92,425.5 96,424.8 L104,424.2 Q107,424.5 107.6,427 L108.4,432 L106.7,432.6 L106.5,441 L93,441.5 L92.3,433 L90.2,432.5 Z" fill="#e61f25"/>
<path d="M93,425.8 L106.5,424.8 L107,428 L94,429 Z" fill="#f58a8a" opacity="0.55"/>
<ellipse cx="102.1" cy="420" rx="2.9" ry="2.9" fill="#1a1414"/>
<path d="M93.5,441 L105,440.8 L105.7,447.9 L99,448.5 L94,447.5 Z" fill="#ffffff"/>
<path d="M97,447 L103.5,447 L103.5,452.5 L98,452.5 Z" fill="#dcab8e" opacity="0.9"/>
<path d="M97.8,452.3 L101,452.3 L101.2,459.5 L98.5,459.5 Z" fill="#e61f25"/>
<path d="M101.5,452.3 L104.8,452.3 L104.5,459.5 L101.8,459.5 Z" fill="#e61f25"/>
<path d="M99.8,459.5 L107,460 L107.5,464 L100.3,464 Z" fill="#4a4a4a"/>
</g>
<g transform="translate(7.6,269.9)">
<path d="M209.5,157.8 L203,158.3 L199.5,159.8 L198.5,161 L199.5,161.8 L203.5,160.8 L210,161 Z" fill="#dcab8e"/>
<path d="M223,168 L226,168 L230,178.5 L228.5,179.8 L225.5,174 Z" fill="#dcab8e"/>
<path d="M209,157.2 L220,156.5 L225.2,158.5 L225.7,169 L223,169.3 L222.6,174.2 L211.4,175.3 L211,161.5 L210.5,161.3 Z" fill="#1260b6"/>
<path d="M214,157.3 L222,157 L225,159 L225,163 L220,161.5 L217,162.5 L214.5,160.5 Z" fill="#74aee0" opacity="0.85"/>
<path d="M215,166 L222,165 L222.6,174.2 L213,175 Z" fill="#000" opacity="0.12"/>
<path d="M220.6,155.5 Q221.5,153 223.5,153 Q226.5,153.2 226,156 L225.5,158.2 L221.5,157.5 Z" fill="#141010"/>
<path d="M211.9,175 L222.8,174.2 L226,177 L226.5,181.2 L221.5,181.7 L212.5,181.8 Z" fill="#ffffff"/>
<path d="M212.2,176 L214.5,176 L215,181.7 L212.5,181.8 Z" fill="#c8c8c8"/>
<path d="M213.5,181.5 L217.5,181.5 L218.5,186.3 L215.5,186.3 Z" fill="#dcab8e"/>
<path d="M215.3,186 L218.6,186 L220,194.5 L217,194.6 Z" fill="#1260b6"/>
<path d="M216.8,194.4 L220.2,194.4 L221,198 L217.5,198.2 Z" fill="#4a3c34"/>
<path d="M221.5,181.5 L225.5,181.2 L228.5,184 L227,186 L223,184 Z" fill="#dcab8e"/>
<path d="M225.2,184.3 L228,184 L228.8,188.5 L226,188.8 Z" fill="#1260b6"/>
<path d="M225.4,188 L229.5,188 L232,190.2 L231.5,191.4 L226,191.2 Z" fill="#4a3c34"/>
</g>
<g>
<circle cx="117.1" cy="372.2" r="10.4" fill="rgba(0,0,0,0.18)"/>
<circle cx="116.8" cy="371.3" r="9.5" fill="#0c0c0c" stroke="#dcdcdc" stroke-width="1.1"/>
<text x="116.8" y="375.7" text-anchor="middle" font-size="11.5" fill="#fff" font-family="Liberation Sans, sans-serif">1</text>
</g>
<g>
<circle cx="231.60000000000002" cy="357.2" r="10.4" fill="rgba(0,0,0,0.18)"/>
<circle cx="231.3" cy="356.3" r="9.5" fill="#0c0c0c" stroke="#dcdcdc" stroke-width="1.1"/>
<text x="231.3" y="360.7" text-anchor="middle" font-size="11.5" fill="#fff" font-family="Liberation Sans, sans-serif">1</text>
</g>
<g>
<circle cx="245.5" cy="402.79999999999995" r="10.700000000000001" fill="rgba(0,0,0,0.18)"/>
<circle cx="245.2" cy="401.9" r="9.8" fill="#0c0c0c" stroke="#dcdcdc" stroke-width="1.1"/>
<text x="245.2" y="406.29999999999995" text-anchor="middle" font-size="11.5" fill="#fff" font-family="Liberation Sans, sans-serif">2</text>
</g>
<g>
<circle cx="316.8" cy="315.2" r="11.200000000000001" fill="rgba(0,0,0,0.18)"/>
<circle cx="316.5" cy="314.3" r="10.3" fill="#e3262c" stroke="#dcdcdc" stroke-width="1.1"/>
<text x="316.5" y="318.7" text-anchor="middle" font-size="11.5" fill="#fff" font-family="Liberation Sans, sans-serif">3</text>
</g>
<g>
<circle cx="408.5" cy="278.0" r="11.1" fill="rgba(0,0,0,0.18)"/>
<circle cx="408.2" cy="277.1" r="10.2" fill="#1565b0" stroke="#dcdcdc" stroke-width="1.1"/>
<text x="408.2" y="281.5" text-anchor="middle" font-size="11.5" fill="#fff" font-family="Liberation Sans, sans-serif">3</text>
</g>
<g>
<circle cx="547.1999999999999" cy="385.59999999999997" r="11.200000000000001" fill="rgba(0,0,0,0.18)"/>
<circle cx="546.9" cy="384.7" r="10.3" fill="#e3262c" stroke="#dcdcdc" stroke-width="1.1"/>
<text x="546.9" y="389.09999999999997" text-anchor="middle" font-size="11.5" fill="#fff" font-family="Liberation Sans, sans-serif">4</text>
</g>
</svg>
</body></html>
